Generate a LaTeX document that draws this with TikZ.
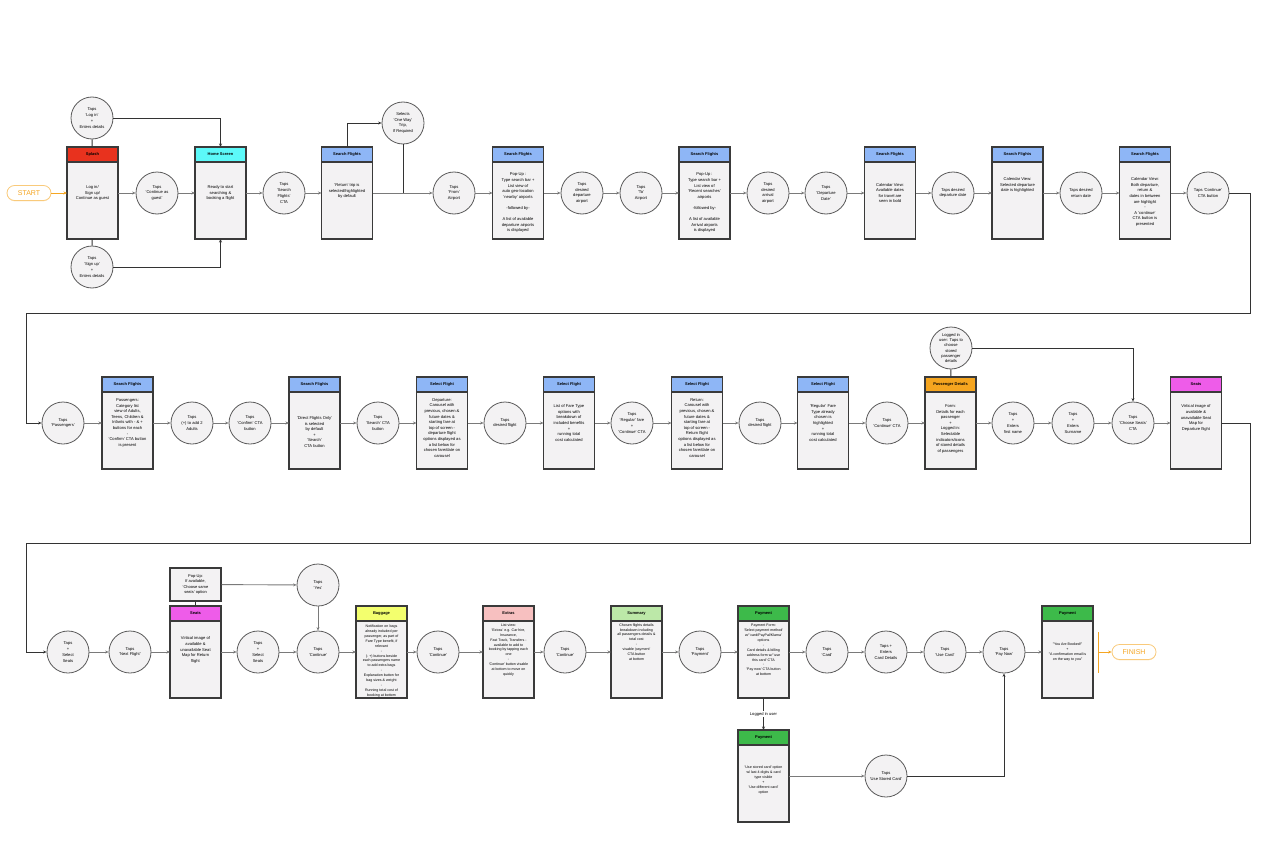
\documentclass[tikz,border=0pt]{standalone}
\usepackage{fontspec}
\setmainfont{Liberation Sans}
\usepackage{tikz}
\usetikzlibrary{arrows.meta,calc,shadows}

\definecolor{boxFill}{HTML}{F3F2F3}
\definecolor{boxLine}{HTML}{3A3A3A}
\definecolor{tapLine}{HTML}{5A5A5A}
\definecolor{flowGrey}{HTML}{7A7A7A}
\definecolor{splashRed}{HTML}{E8321E}
\definecolor{homeCyan}{HTML}{5CF9F9}
\definecolor{searchBlue}{HTML}{8EB6F6}
\definecolor{paxOrange}{HTML}{F5A51F}
\definecolor{seatPink}{HTML}{EE5CE9}
\definecolor{bagYellow}{HTML}{F3FF6E}
\definecolor{extraRose}{HTML}{F7C0C0}
\definecolor{sumGreen}{HTML}{BCE8A8}
\definecolor{payGreen}{HTML}{3DBA4A}
\definecolor{endOrange}{HTML}{F5A623}

\tikzset{
  screen/.style={draw=boxLine, line width=1.3pt, fill=boxFill, minimum width=51pt,
    minimum height=92pt, inner sep=0pt, outer sep=0pt,
    path picture={
      \fill[#1] (path picture bounding box.north west) rectangle ([yshift=-15pt]path picture bounding box.north east);
      \draw[boxLine, line width=1.3pt] ([yshift=-15pt]path picture bounding box.north west) -- ([yshift=-15pt]path picture bounding box.north east);
    }},
  screen title/.style={font=\fontsize{4}{5}\selectfont\bfseries, inner sep=0pt},
  screen text/.style={align=center, font=\fontsize{4.1}{5.6}\selectfont, inner sep=0pt},
  small text/.style={font=\fontsize{3.6}{4.9}\selectfont},
  popup/.style={draw=boxLine, line width=1.3pt, fill=boxFill, minimum width=51pt,
    minimum height=33pt, inner sep=0pt, align=center, font=\fontsize{4}{5.4}\selectfont},
  tap/.style={circle, draw=tapLine, line width=0.8pt, fill=boxFill, minimum size=42pt,
    inner sep=0pt, align=center, font=\fontsize{4.1}{5.8}\selectfont},
  pill/.style={rounded corners=7.5pt, draw=endOrange!60, line width=0.8pt, fill=white,
    minimum width=44pt, minimum height=15pt, text=endOrange, font=\fontsize{7}{8}\selectfont,
    drop shadow={shadow xshift=0pt, shadow yshift=-0.8pt, fill=endOrange, opacity=0.25}},
  flow/.style={draw=flowGrey, line width=0.9pt, -{Stealth[length=3.5pt,width=3pt]}},
  link/.style={draw=black!80, line width=0.9pt},
  linkto/.style={link, -{Stealth[length=3.5pt,width=3pt,fill=flowGrey]}},
  endflow/.style={draw=endOrange, line width=0.9pt, -{Stealth[length=3.5pt,width=3pt]}}
}

% screen with coloured header: [text opts]{name}{x,y}{colour}{title}{body}
\newcommand{\screenbox}[6][]{%
  \node[screen=#4] (#2) at (#3) {};
  \node[screen title] at ([yshift=-7.5pt]#2.north) {#5};
  \node[screen text, #1] at (#2.center) {#6};
}

\begin{document}
\begin{tikzpicture}[x=1pt, y=-1pt]
  \useasboundingbox (0,0) rectangle (1269,851);

  % Row 1: sign in and flight search
  \node[pill] (start) at (29,193) {START};
  \screenbox{splash}{92.5,193}{splashRed}{Splash}{Log in/\\Sign up/\\Continue as guest}
  \node[tap] (login) at (92,118) {Taps\\'Log in'\\+\\Enters details};
  \node[tap] (signup) at (92,267) {Taps\\'Sign up'\\+\\Enters details};
  \node[tap] (guest) at (157,193) {Taps\\'Continue as\\guest'};
  \screenbox{home}{220.5,193}{homeCyan}{Home Screen}{Ready to start\\searching \&\\booking a flight}
  \node[tap] (searchcta) at (284,193) {Taps\\'Search\\Flights'\\CTA};
  \screenbox[yshift=2pt]{trip}{347,193}{searchBlue}{Search Flights}{'Return' trip is\\selected/highlighted\\by default}
  \node[tap] (oneway) at (403,123) {Selects\\'One Way'\\Trip,\\If Required};
  \node[tap] (from) at (454,193) {Taps\\'From'\\Airport};
  \screenbox[yshift=-10pt]{depsearch}{518,193}{searchBlue}{Search Flights}{Pop-Up :\\Type search bar +\\List view of\\auto geo-location\\'nearby' airports\\[5.6pt]-followed by-\\[5.6pt]A list of available\\departure airports\\is displayed}
  \node[tap] (depport) at (582,193) {Taps\\desired\\departure\\airport};
  \node[tap] (to) at (641,193) {Taps\\'To'\\Airport};
  \screenbox[yshift=-10pt]{arrsearch}{704.5,193}{searchBlue}{Search Flights}{Pop-Up :\\Type search bar +\\List view of\\'Recent searches'\\airports\\[5.6pt]-followed by-\\[5.6pt]A list of available\\Arrival airports\\is displayed}
  \node[tap] (arrport) at (768,193) {Taps\\desired\\arrival\\airport};
  \node[tap] (depdate) at (826,193) {Taps\\'Departure\\Date'};
  \screenbox{calendar}{890,193}{searchBlue}{Search Flights}{Calendar View:\\Available dates\\for travel are\\seen in bold}
  \node[tap] (depday) at (953,193) {Taps desired\\departure date};
  \screenbox[yshift=8pt]{depsel}{1017.5,193}{searchBlue}{Search Flights}{Calendar View:\\Selected departure\\date is highlighted}
  \node[tap] (retday) at (1081,193) {Taps desired\\return date};
  \screenbox[yshift=-9pt]{retsel}{1145,193}{searchBlue}{Search Flights}{Calendar View:\\Both departure,\\return \&\\dates in between\\are highlight\\-\\A 'continue'\\CTA button is\\presented}
  \node[tap] (datecta) at (1208,193) {Taps 'Continue'\\CTA button};

  \draw[endflow] (start) -- (splash);
  \draw[link] (login) -- (splash);
  \draw[link] (signup) -- (splash);
  \draw[linkto] (login) -| (home);
  \draw[linkto] (signup) -| (home);
  \draw[flow] (splash) -- (guest);
  \draw[flow] (guest) -- (home);
  \draw[flow] (home) -- (searchcta);
  \draw[flow] (searchcta) -- (trip);
  \draw[linkto] (trip.north) |- (oneway);
  \draw[link] (oneway) -- (oneway |- trip.east);
  \draw[flow] (trip) -- (from);
  \draw[flow] (from) -- (depsearch);
  \draw[flow] (depsearch) -- (depport);
  \draw[flow] (depport) -- (to);
  \draw[flow] (to) -- (arrsearch);
  \draw[flow] (arrsearch) -- (arrport);
  \draw[flow] (arrport) -- (depdate);
  \draw[flow] (depdate) -- (calendar);
  \draw[flow] (calendar) -- (depday);
  \draw[flow] (depday) -- (depsel);
  \draw[flow] (depsel) -- (retday);
  \draw[flow] (retday) -- (retsel);
  \draw[flow] (retsel) -- (datecta);

  % Row 2: passengers, flights and fares
  \node[tap] (paxtap) at (63,423) {Taps\\'Passengers'};
  \screenbox{paxcount}{127.5,423}{searchBlue}{Search Flights}{Passengers:\\Category list\\view of Adults,\\Teens, Children \&\\Infants with - \& +\\buttons for each\\-\\'Confirm' CTA button\\is present}
  \node[tap] (adults) at (192,423) {Taps\\(+) to add 2\\Adults};
  \node[tap] (confirm) at (250,423) {Taps\\'Confirm' CTA\\button};
  \screenbox[yshift=-9pt]{direct}{314.5,423}{searchBlue}{Search Flights}{'Direct Flights Only'\\is selected\\by default\\+\\'Search'\\CTA button}
  \node[tap] (searchbtn) at (378,423) {Taps\\'Search' CTA\\button};
  \screenbox[yshift=-5pt]{outbound}{442,423}{searchBlue}{Select Flight}{Departure:\\Carousel with\\previous, chosen \&\\future dates \&\\starting fare at\\top of screen -\\departure flight\\options displayed as\\a list below for\\chosen fare/date on\\carousel}
  \node[tap] (outflight) at (505,423) {Taps\\desired flight};
  \screenbox{fares}{569,423}{searchBlue}{Select Flight}{List of Fare Type\\options with\\breakdown of\\included benefits\\+\\running total\\cost calculated}
  \node[tap] (regular) at (632,423) {Taps\\'Regular' fare\\+\\'Continue' CTA};
  \screenbox[yshift=-5pt]{inbound}{697,423}{searchBlue}{Select Flight}{Return:\\Carousel with\\previous, chosen \&\\future dates \&\\starting fare at\\top of screen -\\Return flight\\options displayed as\\a list below for\\chosen fare/date on\\carousel}
  \node[tap] (inflight) at (760,423) {Taps\\desired flight};
  \screenbox{farekept}{823,423}{searchBlue}{Select Flight}{'Regular' Fare\\Type already\\chosen is\\highlighted\\+\\running total\\cost calculated}
  \node[tap] (farecta) at (887,423) {Taps\\'Continue' CTA};
  \screenbox[yshift=-6pt]{paxdetails}{950.5,423}{paxOrange}{Passenger Details}{Form:\\Details for each\\passenger\\+\\Logged in:\\Selectable\\indicators/icons\\of stored details\\of passengers}
  \node[tap, font=\fontsize{4.1}{5.1}\selectfont] (storedpax) at (951,348) {Logged in\\user: Taps to\\choose\\stored\\passenger\\details};
  \node[tap] (firstname) at (1013,423) {Taps\\+\\Enters\\first name};
  \node[tap] (surname) at (1073,423) {Taps\\+\\Enters\\Surname};
  \node[tap] (seatcta) at (1133,423) {Taps\\'Choose Seats'\\CTA};
  \screenbox[yshift=5pt]{outseats}{1196,423}{seatPink}{Seats}{Virtical image of\\available \&\\unavailable Seat\\Map for\\Departure flight}

  \coordinate (wrapA) at (1250,313);
  \coordinate (wrapB) at (26,313);
  \draw[linkto] (datecta) -| (wrapA) -- (wrapB) |- (paxtap);
  \draw[flow] (paxtap) -- (paxcount);
  \draw[flow] (paxcount) -- (adults);
  \draw[flow] (adults) -- (confirm);
  \draw[flow] (confirm) -- (direct);
  \draw[flow] (direct) -- (searchbtn);
  \draw[flow] (searchbtn) -- (outbound);
  \draw[flow] (outbound) -- (outflight);
  \draw[flow] (outflight) -- (fares);
  \draw[flow] (fares) -- (regular);
  \draw[flow] (regular) -- (inbound);
  \draw[flow] (inbound) -- (inflight);
  \draw[flow] (inflight) -- (farekept);
  \draw[flow] (farekept) -- (farecta);
  \draw[flow] (farecta) -- (paxdetails);
  \draw[link] (storedpax) -- (paxdetails);
  \draw[linkto] (storedpax) -| (seatcta);
  \draw[flow] (paxdetails) -- (firstname);
  \draw[flow] (firstname) -- (surname);
  \draw[flow] (surname) -- (seatcta);
  \draw[flow] (seatcta) -- (outseats);

  % Row 3: seats, extras and payment
  \node[tap] (seltap1) at (68,652) {Taps\\+\\Select\\Seats};
  \node[tap] (nextflight) at (130,652) {Taps\\'Next Flight'};
  \screenbox[yshift=2pt]{inseats}{195.5,652}{seatPink}{Seats}{Virtical image of\\available \&\\unavailable Seat\\Map for Return\\flight}
  \node[popup] (samepop) at (195.5,584.5) {Pop-Up:\\If available,\\'Choose same\\seats' option};
  \node[tap] (yes) at (318,585) {Taps\\'Yes'};
  \node[tap] (seltap2) at (258,652) {Taps\\+\\Select\\Seats};
  \node[tap] (seatcont) at (318,652) {Taps\\'Continue'};
  \screenbox[yshift=-9pt, small text]{baggage}{381.5,652}{bagYellow}{Baggage}{Notification on bags\\already included per\\passenger, as part of\\Fare Type benefit, if\\relevant\\-\\(- +) buttons beside\\each passengers name\\to add extra bags\\-\\Explanation button for\\bag sizes \& weight\\-\\Running total cost of\\booking at bottom}
  \node[tap] (bagcont) at (438,652) {Taps\\'Continue'};
  \screenbox[yshift=2pt, small text]{extras}{508.5,652}{extraRose}{Extras}{List view:\\'Extras' e.g. Car hire,\\Insurance,\\Fast Track, Transfers -\\available to add to\\booking by tapping each\\one\\-\\'Continue' button visable\\at bottom to move on\\quickly}
  \node[tap] (extcont) at (565,652) {Taps\\'Continue'};
  \screenbox[yshift=10pt, small text]{summary}{636.5,652}{sumGreen}{Summary}{Chosen flights details\\breakdown including\\all passengers details \&\\total cost\\-\\visable 'payment'\\CTA button\\at bottom}
  \node[tap] (paytap) at (700,652) {Taps\\'Payment'};
  \screenbox[yshift=2pt, small text]{payform}{763.5,652}{payGreen}{Payment}{Payment Form:\\'Select payment method'\\w/ 'card/PayPal/Klarna'\\options\\-\\Card details \& billing\\address form w/ 'use\\this card' CTA\\-\\'Pay now' CTA button\\at bottom}
  \node[tap] (card) at (827,652) {Taps\\'Card'};
  \node[tap] (carddet) at (886,652) {Taps +\\Enters\\Card Details};
  \node[tap] (usecard) at (945,652) {Taps\\'Use Card'};
  \node[tap] (paynow) at (1004,652) {Taps\\'Pay Now'};
  \screenbox[small text]{booked}{1067.5,652}{payGreen}{Payment}{"You Are Booked!"\\+\\"A confirmation email is\\on the way to you"}
  \node[pill] (finish) at (1134,652) {FINISH};
  \screenbox[yshift=-4pt, small text]{storedpay}{763.5,776}{payGreen}{Payment}{'Use stored card' option\\w/ last 4 digits \& card\\type visible\\+\\'Use different card'\\option}
  \node[tap] (storedcard) at (886,776) {Taps\\'Use Stored Card'};

  \coordinate (wrapC) at (1250,543);
  \coordinate (wrapD) at (26,543);
  \coordinate (barTop) at (1098,632);
  \coordinate (barBot) at (1098,673);
  \draw[linkto] (outseats) -| (wrapC) -- (wrapD) |- (seltap1);
  \draw[flow] (seltap1) -- (nextflight);
  \draw[flow] (nextflight) -- (inseats);
  \draw[link] (samepop) -- (inseats);
  \draw[flow] (samepop) -- (yes);
  \draw[flow] (yes) -- (seatcont);
  \draw[flow] (inseats) -- (seltap2);
  \draw[flow] (seltap2) -- (seatcont);
  \draw[flow] (seatcont) -- (baggage);
  \draw[flow] (baggage) -- (bagcont);
  \draw[flow] (bagcont) -- (extras);
  \draw[flow] (extras) -- (extcont);
  \draw[flow] (extcont) -- (summary);
  \draw[flow] (summary) -- (paytap);
  \draw[flow] (paytap) -- (payform);
  \draw[flow] (payform) -- (card);
  \draw[flow] (card) -- (carddet);
  \draw[flow] (carddet) -- (usecard);
  \draw[flow] (usecard) -- (paynow);
  \draw[flow] (paynow) -- (booked);
  \draw[endOrange, line width=1pt] (barTop) -- (barBot);
  \draw[endflow] (barTop |- finish) -- (finish);
  \draw[linkto] (payform) -- (storedpay)
    node[midway, fill=white, inner sep=1pt, font=\fontsize{4.1}{5}\selectfont] {Logged in user};
  \draw[flow] (storedpay) -- (storedcard);
  \draw[linkto] (storedcard) -| (paynow);
\end{tikzpicture}
\end{document}
